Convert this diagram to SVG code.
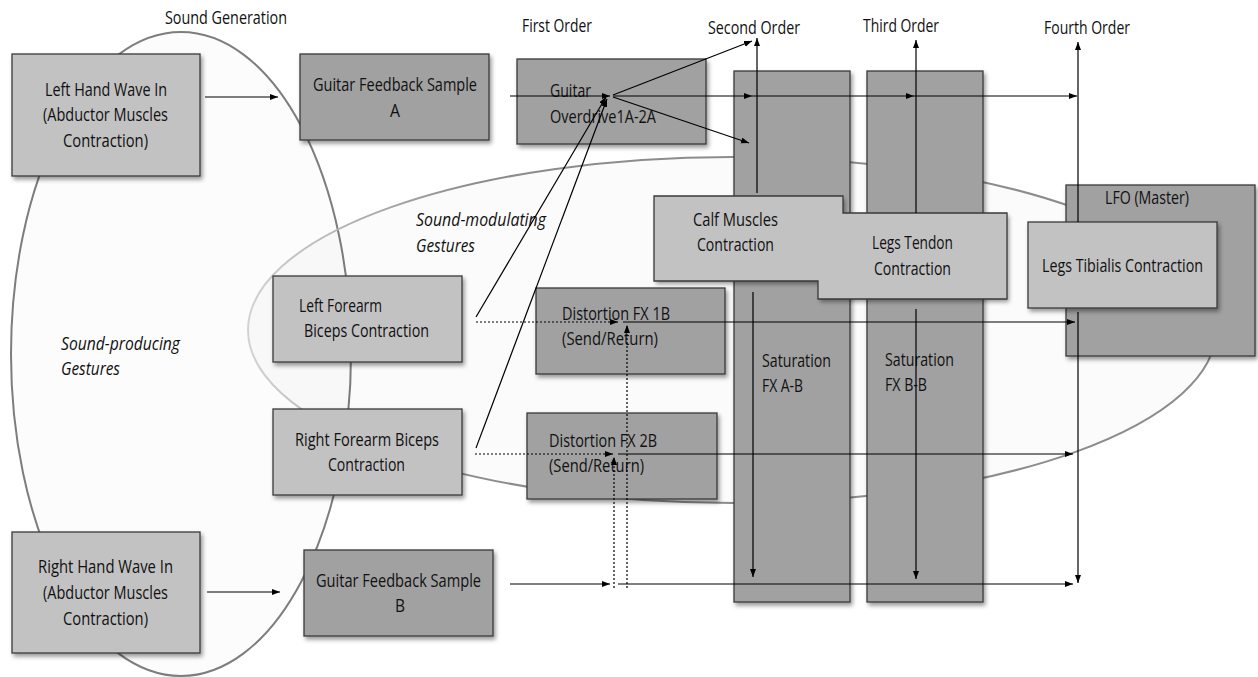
<svg xmlns="http://www.w3.org/2000/svg" width="1258" height="677" viewBox="0 0 1258 677">
<style>
.t{font-family:"Open Sans","Liberation Sans",sans-serif;font-size:18px;fill:#111}
.it{font-style:italic}
.light{fill:#c2c2c2;stroke:#3a3a3a;stroke-width:1.3}
.dark{fill:#a1a1a1;stroke:#3a3a3a;stroke-width:1.3}
.lightf{fill:#c2c2c2}
.conn line{stroke:#000;stroke-width:1.2;fill:none}
.conn .a{marker-end:url(#arr)}
.conn .d{stroke-dasharray:2 2}
</style>
<defs>
<marker id="arr" markerUnits="userSpaceOnUse" markerWidth="9" markerHeight="7" refX="8" refY="3" orient="auto">
<path d="M0,0 L8,3 L0,6 z" fill="#000"/>
</marker>
<filter id="sh" x="-10%" y="-10%" width="130%" height="130%">
<feDropShadow dx="2" dy="3" stdDeviation="2.2" flood-color="#000" flood-opacity="0.4"/>
</filter>
<linearGradient id="g2" gradientUnits="userSpaceOnUse" x1="250" y1="0" x2="470" y2="0">
<stop offset="0" stop-color="#d2d2d2"/>
<stop offset="1" stop-color="#8c8c8c"/>
</linearGradient>
</defs>
<rect width="1258" height="677" fill="#fff"/>

<g id="sound-generation-ellipse">
<ellipse cx="181" cy="354" rx="170" ry="322" fill="#000" fill-opacity="0.01" stroke="#7d7d7d" stroke-width="2"/>
</g>
<g id="sound-modulating-ellipse">
<ellipse cx="732" cy="330" rx="484" ry="173" fill="#000" fill-opacity="0.014" stroke="url(#g2)" stroke-width="2"/>
</g>

<g id="labels">
<text class="t" x="165" y="24" textLength="122" lengthAdjust="spacingAndGlyphs">Sound Generation</text>
<text class="t" x="522" y="32" textLength="70" lengthAdjust="spacingAndGlyphs">First Order</text>
<text class="t" x="708" y="34" textLength="92" lengthAdjust="spacingAndGlyphs">Second Order</text>
<text class="t" x="863" y="32" textLength="76" lengthAdjust="spacingAndGlyphs">Third Order</text>
<text class="t" x="1044" y="34" textLength="86" lengthAdjust="spacingAndGlyphs">Fourth Order</text>
<text class="t it" x="416" y="226" textLength="130" lengthAdjust="spacingAndGlyphs">Sound-modulating</text>
<text class="t it" x="416" y="252" textLength="59" lengthAdjust="spacingAndGlyphs">Gestures</text>
<text class="t it" x="61" y="350" textLength="119" lengthAdjust="spacingAndGlyphs">Sound-producing</text>
<text class="t it" x="61" y="375" textLength="59" lengthAdjust="spacingAndGlyphs">Gestures</text>
</g>

<g id="left-hand">
<rect class="light" x="12" y="54" width="188" height="122" filter="url(#sh)"/>
<text class="t" x="45" y="96" textLength="122" lengthAdjust="spacingAndGlyphs">Left Hand Wave In</text>
<text class="t" x="43" y="121" textLength="125" lengthAdjust="spacingAndGlyphs">(Abductor Muscles</text>
<text class="t" x="63" y="147" textLength="85" lengthAdjust="spacingAndGlyphs">Contraction)</text>
</g>

<g id="guitar-feedback-a">
<rect class="dark" x="300" y="54" width="189" height="86" filter="url(#sh)"/>
<text class="t" x="313" y="91" textLength="164" lengthAdjust="spacingAndGlyphs">Guitar Feedback Sample</text>
<text class="t" x="390" y="117" textLength="10" lengthAdjust="spacingAndGlyphs">A</text>
</g>

<g id="guitar-overdrive">
<rect class="dark" x="517" y="59" width="189" height="85" filter="url(#sh)"/>
<text class="t" x="550" y="97" textLength="41" lengthAdjust="spacingAndGlyphs">Guitar</text>
<text class="t" x="550" y="123" textLength="106" lengthAdjust="spacingAndGlyphs">Overdrive1A-2A</text>
</g>

<g id="saturation-a">
<rect class="dark" x="734" y="71" width="116" height="531" filter="url(#sh)"/>
<text class="t" x="762" y="367" textLength="69" lengthAdjust="spacingAndGlyphs">Saturation</text>
<text class="t" x="762" y="392" textLength="41" lengthAdjust="spacingAndGlyphs">FX A-B</text>
</g>

<g id="saturation-b">
<rect class="dark" x="867" y="71" width="116" height="531" filter="url(#sh)"/>
<text class="t" x="885" y="366" textLength="69" lengthAdjust="spacingAndGlyphs">Saturation</text>
<text class="t" x="885" y="391" textLength="42" lengthAdjust="spacingAndGlyphs">FX B-B</text>
</g>

<g id="calf-tendon" filter="url(#sh)">
<g id="calf-muscles">
<rect class="lightf" x="654" y="196" width="189" height="85"/>
</g>
<g id="legs-tendon">
<rect class="lightf" x="818" y="213" width="189" height="86"/>
</g>
</g>
<g id="calf-tendon-outline">
<path d="M654,196 H843 V213 H1007 V299 H818 V281 H654 Z" fill="none" stroke="#3a3a3a" stroke-width="1.3"/>
<text class="t" x="693" y="226" textLength="85" lengthAdjust="spacingAndGlyphs">Calf Muscles</text>
<text class="t" x="697" y="251" textLength="77" lengthAdjust="spacingAndGlyphs">Contraction</text>
<text class="t" x="872" y="249" textLength="81" lengthAdjust="spacingAndGlyphs">Legs Tendon</text>
<text class="t" x="874" y="275" textLength="77" lengthAdjust="spacingAndGlyphs">Contraction</text>
</g>

<g id="lfo-master">
<rect class="dark" x="1066" y="185" width="189" height="171" filter="url(#sh)"/>
<text class="t" x="1105" y="204" textLength="84" lengthAdjust="spacingAndGlyphs">LFO (Master)</text>
</g>

<g id="legs-tibialis">
<rect class="light" x="1028" y="222" width="189" height="86" filter="url(#sh)"/>
<text class="t" x="1042" y="272" textLength="161" lengthAdjust="spacingAndGlyphs">Legs Tibialis Contraction</text>
</g>

<g id="left-forearm">
<rect class="light" x="273" y="276" width="189" height="86" filter="url(#sh)"/>
<text class="t" x="299" y="312" textLength="83" lengthAdjust="spacingAndGlyphs">Left Forearm</text>
<text class="t" x="304" y="337" textLength="125" lengthAdjust="spacingAndGlyphs">Biceps Contraction</text>
</g>

<g id="right-forearm">
<rect class="light" x="273" y="409" width="189" height="86" filter="url(#sh)"/>
<text class="t" x="295" y="446" textLength="144" lengthAdjust="spacingAndGlyphs">Right Forearm Biceps</text>
<text class="t" x="328" y="471" textLength="77" lengthAdjust="spacingAndGlyphs">Contraction</text>
</g>

<g id="distortion-1b">
<rect class="dark" x="536" y="288" width="189" height="86" filter="url(#sh)"/>
<text class="t" x="562" y="320" textLength="108" lengthAdjust="spacingAndGlyphs">Distortion FX 1B</text>
<text class="t" x="562" y="345" textLength="96" lengthAdjust="spacingAndGlyphs">(Send/Return)</text>
</g>

<g id="distortion-2b">
<rect class="dark" x="527" y="413" width="190" height="86" filter="url(#sh)"/>
<text class="t" x="549" y="447" textLength="108" lengthAdjust="spacingAndGlyphs">Distortion FX 2B</text>
<text class="t" x="549" y="472" textLength="95" lengthAdjust="spacingAndGlyphs">(Send/Return)</text>
</g>

<g id="right-hand">
<rect class="light" x="12" y="532" width="188" height="121" filter="url(#sh)"/>
<text class="t" x="38" y="573" textLength="135" lengthAdjust="spacingAndGlyphs">Right Hand Wave In</text>
<text class="t" x="43" y="599" textLength="125" lengthAdjust="spacingAndGlyphs">(Abductor Muscles</text>
<text class="t" x="63" y="625" textLength="85" lengthAdjust="spacingAndGlyphs">Contraction)</text>
</g>

<g id="guitar-feedback-b">
<rect class="dark" x="304" y="550" width="189" height="86" filter="url(#sh)"/>
<text class="t" x="316" y="587" textLength="165" lengthAdjust="spacingAndGlyphs">Guitar Feedback Sample</text>
<text class="t" x="395" y="612" textLength="10" lengthAdjust="spacingAndGlyphs">B</text>
</g>

<g id="connectors" class="conn">
<line class="a" x1="205" y1="97" x2="278" y2="97"/>
<line class="a" x1="207" y1="592" x2="280" y2="592"/>
<line class="a" x1="510" y1="96" x2="610" y2="96"/>
<line class="a" x1="613" y1="96" x2="752" y2="96"/>
<line class="a" x1="752" y1="96" x2="914" y2="96"/>
<line class="a" x1="914" y1="96" x2="1077" y2="96"/>
<line class="a" x1="613" y1="95" x2="752" y2="41"/>
<line class="a" x1="613" y1="97" x2="749" y2="143"/>
<line class="a" x1="757" y1="193" x2="757" y2="38"/>
<line class="a" x1="753" y1="292" x2="753" y2="577"/>
<line class="a" x1="916" y1="213" x2="916" y2="40"/>
<line class="a" x1="916" y1="309" x2="916" y2="579"/>
<line class="a" x1="1078" y1="222" x2="1078" y2="42"/>
<line class="a" x1="1078" y1="312" x2="1078" y2="583"/>
<line class="a" x1="476" y1="317" x2="606" y2="97"/>
<line class="a" x1="476" y1="448" x2="607" y2="99"/>
<line class="a d" x1="476" y1="322" x2="618" y2="322"/>
<line class="a" x1="623" y1="322" x2="1075" y2="322"/>
<line class="a d" x1="475" y1="454" x2="613" y2="454"/>
<line class="a" x1="618" y1="454" x2="1073" y2="454"/>
<line class="a" x1="510" y1="584" x2="610" y2="584"/>
<line class="a" x1="618" y1="584" x2="1073" y2="584"/>
<line class="a d" x1="614" y1="588" x2="614" y2="457"/>
<line class="a d" x1="627" y1="588" x2="627" y2="325"/>
</g>
</svg>
